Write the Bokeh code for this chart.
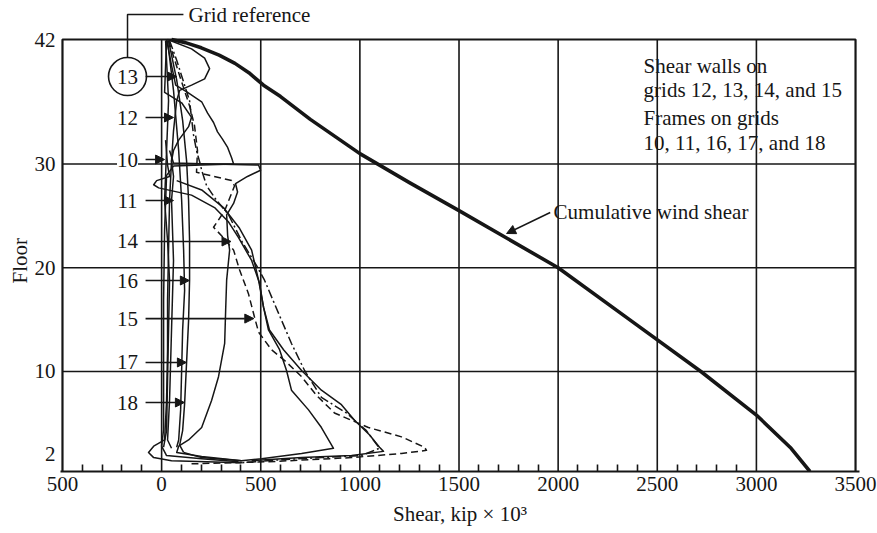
import math
from bokeh.plotting import figure
from bokeh.models import (Arrow, NormalHead, Label, LabelSet, ColumnDataSource,
                          FixedTicker, CustomJSTickFormatter, Title)
from bokeh.core.properties import value
from bokeh.embed import file_html
from bokeh.resources import INLINE

FONT = "Liberation Serif"
INK = "#161616"

# ---------------- axes / grid values ----------------
shear_min, shear_max = -500, 3500
floor_min, floor_max = 0.36, 42
floor_ticks = [2, 10, 20, 30, 42]
shear_major_ticks = list(range(-500, 3501, 500))
shear_minor_ticks = [v for v in range(-400, 3000, 100) if v % 500 != 0]
grid_shear = [0, 500, 1000, 1500, 2000, 2500, 3000]
grid_floor = [10, 20, 30]

# ---------------- series (shear in kip x 10^3, floor) ----------------
cum_shear = [50, 120, 200, 290, 370, 440, 514, 600, 750, 1000, 1250, 1500, 2000, 2360, 2720, 3000, 3175, 3270]
cum_floor = [42.0, 41.7, 41.2, 40.5, 39.7, 38.8, 37.6, 36.5, 34.3, 31.0, 28.2, 25.5, 20.0, 15.0, 10.0, 5.8, 2.6, 0.36]

a_shear = [30, 151, 217, 242, 217, 151, 91, 76, 60, 50, 40, 35, 30, 30, 25, 15, -40, -66, -40, 50, 403]
a_floor = [42, 41.1, 40.2, 39.2, 38.2, 37.6, 37.1, 36.1, 33.2, 30.3, 26.5, 21.7, 16.9, 12.1, 7.2, 3.4, 2.8, 2.2, 1.7, 1.4, 1.2]

b_shear = [25, 50, 71, 131, 202, 232, 262, 282, 307, 333, 353, 363, 202, 60, 25, 15, 10, 10, 10, 0, 25, 202, 388]
b_floor = [42, 39.5, 37.6, 36.9, 36.0, 34.9, 34.0, 33.1, 32.4, 31.6, 30.6, 30.0, 29.9, 29.8, 28.9, 23.6, 16.9, 9.2, 4.4, 2.8, 1.9, 1.6, 1.3]

c_shear = [40, 60, 252, 489, 499, 433, 373, 383, 363, 328, 333, 343, 328, 323, 318, 287, 252, 202, 136, 86, 76, 202, 403]
c_floor = [31.3, 30.1, 30.0, 29.9, 29.4, 28.8, 28.1, 27.3, 26.2, 25.1, 23.1, 21.7, 18.8, 15.9, 12.7, 9.5, 7.2, 4.6, 3.4, 2.8, 2.2, 1.8, 1.4]

d_shear = [20, 30, 40, -25, -40, -15, 151, 267, 338, 388, 454, 494, 514, 539, 595, 630, 655, 741, 806, 867, 706, 504, 403, 202, 111]
d_floor = [32.3, 29.9, 28.8, 28.4, 28.0, 27.7, 27.0, 25.8, 24.4, 22.9, 20.7, 18.5, 16.2, 14.0, 12.1, 10.1, 8.2, 6.3, 4.6, 2.6, 2.1, 1.6, 1.4, 1.7, 2.2]

e1_shear = [35, 76, 106, 126, 136, 141, 141, 136, 126, 116, 106, 91, 111]
e1_floor = [41.9, 38.1, 34.2, 30.3, 26.5, 22.6, 18.8, 14.9, 10.9, 6.9, 4.3, 2.9, 2.2]

e2_shear = [30, 60, 86, 101, 111, 116, 106, 101, 96, 86, 76]
e2_floor = [41.9, 37.1, 31.3, 26.5, 21.7, 17.8, 14.0, 10.1, 6.3, 3.4, 2.7]

f_shear = [20, 35, 25, 15, 30, 40, 35, 30, 25, 10]
f_floor = [41.9, 36.1, 31.3, 26.5, 22.6, 18.8, 14.0, 9.2, 4.3, 2.7]

j_shear = [25, 15, 101, 151, 136, 86, 60, 50, 60, 50, 60, 50, 40, 30, 50]
j_floor = [42, 36.9, 35.9, 34.5, 33.6, 32.3, 31.3, 30.3, 28.8, 26.5, 20.7, 14.0, 7.2, 3.4, 2.6]

i_shear = [76, 202, 312, 393, 454, 489, 514, 544, 615, 706, 806, 907, 973, 1048, 1099, 1119, 958, 706, 454]
i_floor = [28.4, 27.5, 25.8, 23.8, 21.7, 18.8, 16.2, 14.0, 12.1, 10.1, 8.2, 6.8, 5.3, 3.9, 2.7, 2.3, 1.9, 1.7, 1.4]

g_shear = [40, 76, 116, 141, 151, 161, 176, 192, 202, 227, 277, 338, 403, 479, 519, 590, 655, 721, 806, 932, 1033, 1099, 1008, 806, 605, 403]
g_floor = [41.9, 40.0, 37.6, 36.1, 34.4, 32.8, 31.3, 30.2, 29.4, 27.9, 26.5, 25.1, 22.6, 20.2, 18.8, 15.6, 12.7, 10.1, 7.5, 6.0, 4.3, 2.6, 1.9, 1.7, 1.5, 1.2]

h_shear = [35, 91, 141, 166, 181, 176, 353, 368, 318, 262, 312, 363, 393, 438, 469, 489, 554, 630, 706, 781, 872, 1043, 1210, 1326, 1336, 1210, 958, 539, 151]
h_floor = [41.9, 38.5, 35.6, 33.7, 31.3, 29.2, 28.4, 27.9, 25.5, 23.9, 22.9, 21.7, 19.8, 17.5, 15.2, 13.8, 12.1, 10.9, 9.5, 7.7, 6.0, 4.6, 3.7, 2.7, 2.4, 2.1, 1.7, 1.3, 1.1]

# grid reference labels and arrow targets
grid_names = ["13", "12", "10", "11", "14", "16", "15", "17", "18"]
grid_label_floor = [38.43, 34.48, 30.43, 26.48, 22.53, 18.77, 15.1, 10.87, 7.01]
grid_arrow_tip = [76, 60, 15, 60, 350, 140, 465, 125, 115]

LABEL_X = -172
ARROW_X0 = -81
FS = "21px"

# ---------------- figure ----------------
p = figure(width=877, height=532, x_range=(-510, 3520), y_range=(0.36, 45.76),
           output_backend="svg", toolbar_location=None,
           min_border_left=60, min_border_right=18, min_border_top=0, min_border_bottom=61)
p.grid.visible = False
p.outline_line_color = None
p.background_fill_color = "white"
p.border_fill_color = "white"

xa = p.xaxis[0]
xa.ticker = FixedTicker(ticks=shear_major_ticks, minor_ticks=shear_minor_ticks)
xa.formatter = CustomJSTickFormatter(code="return Math.abs(tick).toFixed(0);")
xa.major_tick_in = 0
xa.major_tick_out = 0
xa.minor_tick_in = 7
xa.minor_tick_out = 0
xa.minor_tick_line_color = INK
xa.minor_tick_line_width = 1.6
xa.axis_line_color = INK
xa.axis_line_width = 2
xa.major_label_text_font = FONT
xa.major_label_text_font_size = FS
xa.major_label_text_color = INK
xa.major_label_standoff = 5
xa.axis_label = "Shear, kip \u00d7 10\u00b3"
xa.axis_label_text_font = FONT
xa.axis_label_text_font_size = FS
xa.axis_label_text_font_style = "normal"
xa.axis_label_text_color = INK
xa.axis_label_standoff = 8

ya = p.yaxis[0]
ya.ticker = FixedTicker(ticks=floor_ticks, minor_ticks=[])
ya.major_tick_in = 0
ya.major_tick_out = 0
ya.axis_line_color = None
ya.major_label_text_font = FONT
ya.major_label_text_font_size = FS
ya.major_label_text_color = INK
ya.major_label_standoff = 5

# y-axis title as a left-side title, shifted up from the bottom
p.add_layout(Title(text="Floor", align="left", offset=188, text_font=FONT, text_font_size=FS,
                   text_font_style="normal", text_color=INK, standoff=0), "left")

# grid lines and frame box
n = len(grid_shear)
p.segment(x0=grid_shear, y0=[floor_min] * n, x1=grid_shear, y1=[floor_max] * n,
          line_color=INK, line_width=1.6)
m = len(grid_floor)
p.segment(x0=[shear_min] * m, y0=grid_floor, x1=[shear_max] * m, y1=grid_floor,
          line_color=INK, line_width=1.6)
p.line([shear_min, shear_min, shear_max, shear_max], [floor_min, floor_max, floor_max, floor_min],
       line_color=INK, line_width=2.2)

# distribution curves
thin = [(a_shear, a_floor, "solid"), (b_shear, b_floor, "solid"), (c_shear, c_floor, "solid"),
        (d_shear, d_floor, "solid"), (e1_shear, e1_floor, "solid"), (e2_shear, e2_floor, "solid"),
        (f_shear, f_floor, "solid"), (j_shear, j_floor, "solid"), (i_shear, i_floor, "solid"),
        (g_shear, g_floor, "9 3 2 3"), (h_shear, h_floor, "7 4")]
for xs, ys, dash in thin:
    p.line(xs, ys, line_color=INK, line_width=1.5, line_dash=dash, line_join="round")

# cumulative wind shear
p.line(cum_shear, cum_floor, line_color=INK, line_width=3.6, line_join="round")

# grid reference leader + circle
p.line([LABEL_X, LABEL_X, 110], [40.27, 44.41, 44.41], line_color=INK, line_width=1.5)
p.scatter([LABEL_X], [grid_label_floor[0]], size=38, marker="circle",
          fill_color="white", line_color=INK, line_width=1.6)

# arrows from grid labels
arr_src = ColumnDataSource(dict(x0=[ARROW_X0] * len(grid_names), x1=grid_arrow_tip, y=grid_label_floor))
p.add_layout(Arrow(end=NormalHead(size=9, line_color=INK, fill_color=INK, line_width=1),
                   source=arr_src, x_start="x0", y_start="y", x_end="x1", y_end="y",
                   line_color=INK, line_width=1.6))

lab_src = ColumnDataSource(dict(x=[LABEL_X] * len(grid_names), y=grid_label_floor, t=grid_names))
p.add_layout(LabelSet(x="x", y="y", text="t", source=lab_src,
                      text_font=value(FONT), text_font_size=value(FS), text_color=INK,
                      text_align="center", text_baseline="middle",
                      background_fill_color="white"))

p.add_layout(Label(x=136, y=44.41, text="Grid reference", text_font=FONT, text_font_size=FS,
                   text_color=INK, text_align="left", text_baseline="middle"))

# notes
notes = ["Shear walls on", "grids 12, 13, 14, and 15", "Frames on grids", "10, 11, 16, 17, and 18"]
note_floor = [39.49, 37.18, 34.48, 32.07]
for t, fy in zip(notes, note_floor):
    p.add_layout(Label(x=2431, y=fy, text=t, text_font=FONT, text_font_size=FS,
                       text_color=INK, text_align="left", text_baseline="middle"))

p.add_layout(Label(x=1977, y=25.33, text="Cumulative wind shear", text_font=FONT,
                   text_font_size=FS, text_color=INK, text_align="left", text_baseline="middle"))
p.add_layout(Arrow(end=NormalHead(size=9, line_color=INK, fill_color=INK, line_width=1),
                   x_start=1960, y_start=25.33, x_end=1740, y_end=23.3,
                   line_color=INK, line_width=1.5))

open("out.html", "w").write(file_html(p, INLINE))
